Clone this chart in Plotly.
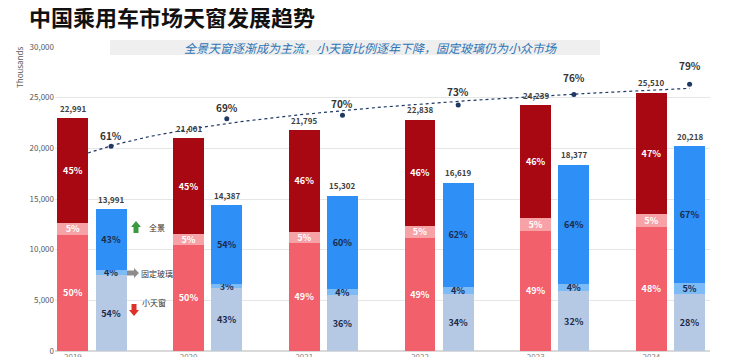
import numpy as np
import plotly.graph_objects as go

# ---------------- data ----------------
years = ["2019", "2020", "2021", "2022", "2023", "2024"]
total_cars = [22991, 21001, 21795, 22838, 24239, 25510]
red_bottom_pct = [50, 50, 49, 49, 49, 48]
red_mid_pct = [5, 5, 5, 5, 5, 5]
red_top_pct = [45, 45, 46, 46, 46, 47]
sunroof_total = [13991, 14387, 15302, 16619, 18377, 20218]
small_pct = [54, 43, 36, 34, 32, 28]      # 小天窗
fixed_pct = [4, 3, 4, 4, 4, 5]            # 固定玻璃
pano_pct = [43, 54, 60, 62, 64, 67]       # 全景
penetration = [61, 69, 70, 73, 76, 79]

title = "中国乘用车市场天窗发展趋势"
subtitle = "全景天窗逐渐成为主流，小天窗比例逐年下降，固定玻璃仍为小众市场"

# ---------------- layout helpers ----------------
# page body has an 8px margin, so the figure starts at screen (8, 8)
OFFS = 8
W, H = 744 - OFFS, 357 - OFFS
SL, SR, ST, SB = 55, 710, 47, 351          # plot area in screen pixels
ML, MR, MT, MB = SL - OFFS, 744 - SR, ST - OFFS, 357 - SB
PW, PH = SR - SL, SB - ST


def px_x(p):
    return (p - SL) / PW


def px_y(p):
    return (SB - p) / PH


OFF = 0.165
BW = 0.267
GAP = 115.7   # pixels per category
C0 = 92       # screen x of first group centre
n = len(years)
xi = np.arange(n)
xr = xi - OFF
xb = xi + OFF

# vertical pixel lift of the percentage labels above their markers (style)
LABEL_LIFT = [11, 11, 12, 13, 17, 19]

FONT = "Noto Sans CJK SC, Noto Sans, Arial, sans-serif"


def parts(total, pcts_list):
    pcts = np.array(pcts_list, dtype=float)
    s = pcts.sum(axis=0)
    return [np.array(total) * p / s for p in pcts]


r_bot, r_mid, r_top = parts(total_cars, [red_bottom_pct, red_mid_pct, red_top_pct])
b_bot, b_mid, b_top = parts(sunroof_total, [small_pct, fixed_pct, pano_pct])

fig = go.Figure()


def add_bar(x, y, pct, color, tcolor):
    fig.add_trace(go.Bar(
        x=x, y=y, width=BW, marker=dict(color=color, line=dict(width=0)),
        text=[f"{p}%" for p in pct], textposition="inside", insidetextanchor="middle",
        textangle=0, constraintext="none",
        textfont=dict(color=tcolor, size=9, family=FONT, weight="bold"),
        showlegend=False, hoverinfo="skip", cliponaxis=False,
    ))


add_bar(xr, r_bot, red_bottom_pct, "#F2606B", "white")
add_bar(xr, r_mid, red_mid_pct, "#F6A2A6", "white")
add_bar(xr, r_top, red_top_pct, "#A80812", "white")
add_bar(xb, b_bot, small_pct, "#B6C9E4", "#1C2B4C")
add_bar(xb, b_mid, fixed_pct, "#7DBBF6", "#1C2B4C")
add_bar(xb, b_top, pano_pct, "#2E8FF6", "#1C2B4C")

# logarithmic trendline of penetration (Excel-style), extended slightly backward
t = np.arange(1, n + 1)
b, a = np.polyfit(np.log(t), penetration, 1)
tt = np.linspace(0.8, n, 120)
fig.add_trace(go.Scatter(
    x=(tt - 1) + OFF, y=a + b * np.log(tt), mode="lines", yaxis="y2",
    line=dict(color="#1F3864", width=1.2, dash="dot"),
    showlegend=False, hoverinfo="skip",
))
fig.add_trace(go.Scatter(
    x=xb, y=penetration, mode="markers", yaxis="y2",
    marker=dict(color="#1F3864", size=5),
    showlegend=False, hoverinfo="skip", cliponaxis=False,
))

# secondary axis range (0% sits at screen y 356, 3.44 px per percent)
y2_lo = (356 - SB) / 3.44
y2_hi = (356 - ST) / 3.44

fig.update_layout(
    width=W, height=H,
    margin=dict(l=ML, r=MR, t=MT, b=MB),
    paper_bgcolor="white", plot_bgcolor="white",
    barmode="stack",
    showlegend=False,
    font=dict(family=FONT),
    xaxis=dict(range=[(SL - C0) / GAP, (SR - C0) / GAP], tickvals=xr, ticktext=years,
               showgrid=False, zeroline=False, showline=False, automargin=False,
               tickfont=dict(size=8, color="#7F7F7F"), ticks=""),
    yaxis=dict(range=[0, 30000], dtick=5000, tickformat=",", showgrid=True,
               gridcolor="#E6E6E6", gridwidth=1, zeroline=True, zerolinecolor="#D9D9D9",
               tickfont=dict(size=8, color="#595959"), automargin=False, ticks=""),
    yaxis2=dict(range=[y2_lo, y2_hi], overlaying="y", visible=False),
)

# totals above bars
for xs, vals in ((xr, total_cars), (xb, sunroof_total)):
    for x, v in zip(xs, vals):
        fig.add_annotation(x=x, y=v, xref="x", yref="y", text=f"<b>{v:,}</b>",
                           showarrow=False, yanchor="middle", yshift=10,
                           font=dict(size=8, color="#404040", family=FONT))

# penetration labels
for x, p, lift in zip(xb, penetration, LABEL_LIFT):
    fig.add_annotation(x=x, y=p, xref="x", yref="y2", text=f"<b>{p}%</b>",
                       showarrow=False, yanchor="middle", yshift=lift,
                       font=dict(size=10, color="#333333", family=FONT))

# subtitle band
fig.add_shape(type="rect", xref="paper", yref="paper",
              x0=px_x(110), x1=px_x(600), y0=px_y(55), y1=px_y(40),
              fillcolor="#EFEFEF", line=dict(width=0), layer="above")

anns = [
    dict(text=f"<b>{title}</b>", x=px_x(27), y=px_y(16), xanchor="left", yanchor="middle",
         font=dict(size=22, color="#111111", family=FONT)),
    dict(text=f"<i>{subtitle}</i>", x=px_x(370), y=px_y(47), xanchor="center", yanchor="middle",
         font=dict(size=12, color="#2E75B6", family=FONT)),
    dict(text="Thousands", x=px_x(20), y=px_y(68), xanchor="center", yanchor="middle",
         textangle=-90, font=dict(size=8, color="#595959", family=FONT)),
    dict(text="全景", x=px_x(147), y=px_y(227), xanchor="left", yanchor="middle",
         font=dict(size=8, color="#333333", family=FONT)),
    dict(text="固定玻璃", x=px_x(139), y=px_y(273), xanchor="left", yanchor="middle",
         font=dict(size=8, color="#333333", family=FONT)),
    dict(text="小天窗", x=px_x(140), y=px_y(302), xanchor="left", yanchor="middle",
         font=dict(size=8, color="#333333", family=FONT)),
]
for an in anns:
    fig.add_annotation(xref="paper", yref="paper", showarrow=False, **an)

# arrows (block shapes, pixel-sized)
arrows = [
    (136, 227, "M -5,0 L 0,6 L 5,0 L 2.5,0 L 2.5,-6 L -2.5,-6 L -2.5,0 Z", "#3A9A3E"),
    (133, 273, "M -6,2.5 L 1,2.5 L 1,5 L 6,0 L 1,-5 L 1,-2.5 L -6,-2.5 Z", "#8C8C8C"),
    (134, 310, "M -5,0 L 0,-6 L 5,0 L 2.5,0 L 2.5,6 L -2.5,6 L -2.5,0 Z", "#E0302A"),
]
for ax_, ay_, path, col in arrows:
    fig.add_shape(type="path", xref="paper", yref="paper",
                  xsizemode="pixel", ysizemode="pixel",
                  xanchor=px_x(ax_), yanchor=px_y(ay_), path=path,
                  fillcolor=col, line=dict(width=0), layer="above")

fig.write_html("out.html")
